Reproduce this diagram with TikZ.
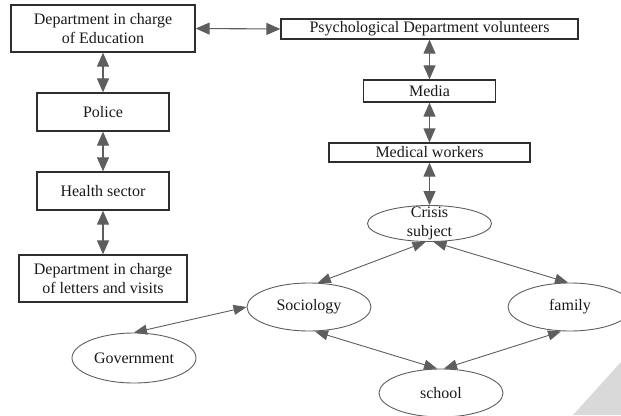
\documentclass[tikz,border=0pt]{standalone}
\usepackage{fontspec}
\setmainfont{Liberation Serif}
\usetikzlibrary{arrows.meta,shapes.geometric}
\definecolor{linegray}{HTML}{5E5E5E}
\definecolor{boxline}{HTML}{2E2E2E}
\definecolor{curlgray}{HTML}{D9D9D9}
\tikzset{
  box/.style={draw=boxline, line width=1.3pt, inner sep=0pt, align=center},
  bubble/.style={ellipse, draw=linegray, line width=0.9pt, inner sep=0pt,
                 minimum width=124pt, minimum height=48pt},
  link/.style={draw=linegray, line width=1.1pt,
               {Triangle[length=14pt,width=12pt]}-{Triangle[length=14pt,width=12pt]}},
  thinlink/.style={draw=linegray, line width=0.9pt,
               {Triangle[length=13pt,width=10pt]}-{Triangle[length=13pt,width=10pt]}}
}

\begin{document}
\begin{tikzpicture}[x=1pt, y=-1pt, font=\fontsize{16}{19.5}\selectfont, text=black!90]
    \useasboundingbox (0,0) rectangle (621,415);
    \fill[curlgray] (573,415) -- (621,362) -- (621,415) -- cycle;

    % left column
    \node[box, minimum width=184pt, minimum height=47pt] (edu) at (103,28.5) {Department in charge\\of Education};
    \node[box, minimum width=132pt, minimum height=38pt] (police) at (103,112) {Police};
    \node[box, minimum width=132pt, minimum height=38pt] (health) at (103,191) {Health sector};
    \node[box, minimum width=168pt, minimum height=47pt] (letters) at (103,278.5) {Department in charge\\of letters and visits};

    % right column
    \node[box, minimum width=297pt, minimum height=20pt] (psych) at (429.5,29) {Psychological Department volunteers};
    \node[box, minimum width=132pt, minimum height=22pt] (media) at (429.5,91) {Media};
    \node[box, minimum width=201pt, minimum height=19pt] (medical) at (429.5,152.5) {Medical workers};

    % ellipses
    \node[bubble, minimum height=36pt, label={[align=center]center:Crisis\\subject}] (crisis) at (429.5,223.5) {};
    \node[bubble] (socio) at (309,307) {Sociology};
    \node[bubble] (family) at (570,307) {family};
    \node[bubble, minimum height=50pt] (gov) at (134,358) {Government};
    \node[bubble] (school) at (441,393) {school};

    \draw[link] (edu.east) -- (psych.west);
    \draw[link] (edu) -- (police);
    \draw[link] (police) -- (health);
    \draw[link] (health) -- (letters);
    \draw[link] (psych) -- (media);
    \draw[link] (media) -- (medical);
    \draw[link] (medical) -- (crisis);

    \draw[thinlink] ([xshift=-4pt]crisis.south) -- (socio.70);
    \draw[thinlink] ([xshift=4pt]crisis.south) -- ([xshift=-2pt]family.north);
    \draw[thinlink] (gov.north) -- (socio.west);
    \draw[thinlink] ([xshift=6pt]socio.south) -- ([xshift=-4pt]school.north);
    \draw[thinlink] ([xshift=-9pt]family.south) -- ([xshift=3pt]school.north);
\end{tikzpicture}
\end{document}
